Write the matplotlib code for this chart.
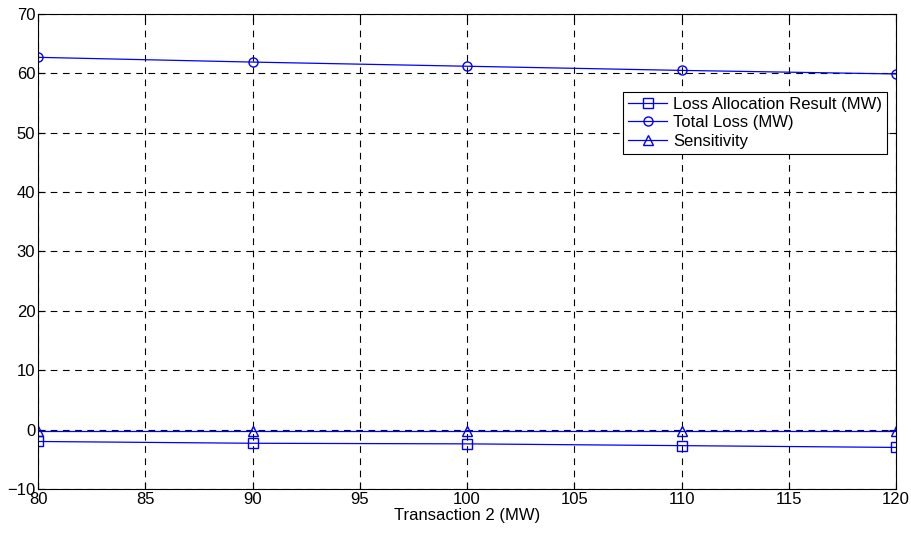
import numpy as np
import matplotlib.pyplot as plt

plt.rcParams['font.family'] = ['Liberation Sans', 'DejaVu Sans']

transaction = [80, 90, 100, 110, 120]
loss_alloc = [-2.0, -2.3, -2.4, -2.7, -3.0]
total_loss = [62.7, 61.9, 61.2, 60.5, 59.9]
sensitivity = [-0.15, -0.15, -0.15, -0.15, -0.15]

fig = plt.figure(figsize=(9.12, 5.34), dpi=100)
ax = fig.add_axes([0.0417, 0.0843, 0.9408, 0.8895])

ax.plot(transaction, loss_alloc, color='blue', lw=0.9, marker='s', ms=6.5,
        mfc='none', mec='blue', label='Loss Allocation Result (MW)')
ax.plot(transaction, total_loss, color='blue', lw=0.9, marker='o', ms=6.5,
        mfc='none', mec='blue', label='Total Loss (MW)')
ax.plot(transaction, sensitivity, color='blue', lw=0.9, marker='^', ms=6.5,
        mfc='none', mec='blue', label='Sensitivity')

ax.set_xlim(80, 120)
ax.set_ylim(-10, 70)
ax.set_xticks(np.arange(80, 121, 5))
ax.set_yticks(np.arange(-10, 71, 10))
ax.tick_params(direction='in', labelsize=12, top=True, right=True, length=5, pad=2)
ax.grid(True, color='black', linestyle=(0, (6, 5)), linewidth=0.8)
ax.set_xlabel('Transaction 2 (MW)', fontsize=12, labelpad=1)
for s in ax.spines.values():
    s.set_linewidth(0.8)

leg = ax.legend(loc='upper right', bbox_to_anchor=(0.99, 0.836), borderaxespad=0,
                fancybox=False, edgecolor='black', framealpha=1, fontsize=12,
                handlelength=2.3, labelspacing=0.2, borderpad=0.3, handletextpad=0.4)
leg.get_frame().set_linewidth(0.8)

fig.savefig('out.png', dpi=100)
